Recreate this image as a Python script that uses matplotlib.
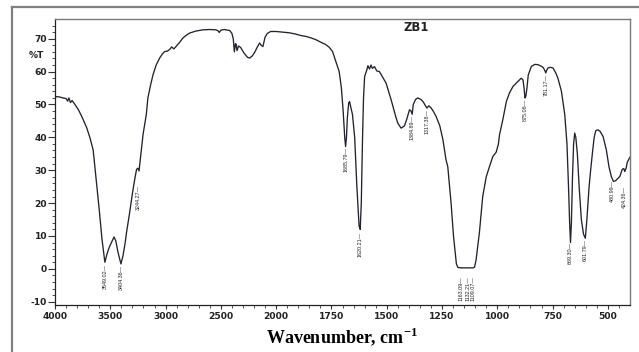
import numpy as np
import matplotlib
matplotlib.use('Agg')
import matplotlib.pyplot as plt
from matplotlib.lines import Line2D
import matplotlib.transforms as mtransforms

plt.rcParams['mathtext.fontset'] = 'custom'
plt.rcParams['mathtext.rm'] = 'Liberation Serif'
plt.rcParams['mathtext.bf'] = 'Liberation Serif:bold'

# IR spectrum of ZB1 (wavenumber cm-1, %T)
wavenumber = [4000, 3960, 3930, 3900, 3885, 3875, 3860, 3845, 3820, 3790, 3760, 3740, 3714,
              3685, 3655, 3630, 3600, 3575, 3549, 3530, 3510, 3490, 3466, 3450, 3430, 3404,
              3385, 3365, 3354, 3330, 3295, 3275, 3262, 3250, 3240, 3219, 3204, 3174, 3160,
              3135, 3114, 3085, 3054, 3030, 3009, 2985, 2964, 2945, 2925, 2904, 2875, 2844,
              2815, 2784, 2730, 2664, 2600, 2545, 2525, 2515, 2500, 2470, 2420, 2400, 2388,
              2378, 2368, 2362, 2354, 2340, 2320, 2290, 2260, 2240, 2215, 2195, 2170, 2150,
              2135, 2120, 2100, 2080, 2050, 2000, 1971, 1940, 1911, 1890, 1865, 1840, 1820,
              1800, 1775, 1760, 1745, 1730, 1715, 1705, 1697, 1690, 1686, 1682, 1678, 1672,
              1668, 1662, 1655, 1645, 1635, 1625, 1620, 1615, 1610, 1605, 1600, 1590, 1585,
              1578, 1571, 1565, 1555, 1545, 1533, 1520, 1503, 1480, 1460, 1450, 1435, 1420,
              1410, 1397, 1390, 1385, 1380, 1370, 1360, 1345, 1335, 1325, 1318, 1310, 1300,
              1290, 1277, 1260, 1246, 1232, 1224, 1209, 1198, 1185, 1178, 1163, 1132, 1109,
              1103, 1096, 1081, 1066, 1050, 1036, 1020, 1005, 995, 990, 975, 959, 945, 929,
              907, 892, 884, 879, 875, 871, 866, 860, 846, 830, 816, 800, 792, 785, 781, 776,
              771, 760, 748, 735, 726, 718, 710, 695, 685, 678, 673, 669, 665, 660, 655, 650,
              645, 638, 630, 620, 610, 602, 595, 585, 578, 570, 562, 555, 545, 535, 522, 507,
              495, 484, 475, 465, 455, 446, 435, 428, 424, 418, 412, 400]
transmittance = [52.4, 52.3, 52.0, 51.8, 51.0, 52.0, 50.6, 51.2, 50.0, 48.5, 46.5, 45.0, 43.0,
                 40.0, 36.2, 28.0, 18.0, 9.0, 2.0, 4.5, 6.5, 8.0, 9.7, 8.5, 5.0, 1.5,
                 4.0, 8.0, 10.9, 16.0, 24.0, 28.0, 30.3, 30.6, 29.8, 36.2, 40.8, 47.0, 52.0,
                 56.0, 59.0, 62.0, 64.1, 65.3, 66.1, 66.2, 66.7, 67.5, 66.9, 67.7, 68.8, 70.2,
                 71.0, 71.7, 72.3, 72.7, 72.8, 72.7, 72.4, 71.9, 72.6, 72.8, 72.5, 71.6, 70.0,
                 66.0, 68.5, 68.3, 66.4, 67.8, 67.3, 65.6, 64.4, 64.1, 64.8, 65.8, 67.5, 68.7,
                 68.0, 67.6, 70.5, 71.6, 72.2, 72.2, 72.0, 71.8, 71.4, 71.0, 70.7, 70.2, 69.7,
                 69.0, 68.2, 67.4, 66.1, 63.1, 60.0, 55.0, 48.0, 40.0, 37.2, 40.0, 46.0, 50.5,
                 50.9, 49.0, 47.0, 40.0, 25.0, 13.0, 12.0, 20.0, 38.0, 52.0, 58.5, 60.5, 61.8,
                 60.8, 62.0, 61.0, 61.5, 60.2, 60.0, 58.5, 56.5, 51.4, 46.5, 44.3, 42.8, 43.5,
                 45.4, 48.4, 48.0, 47.0, 50.0, 51.5, 52.0, 51.5, 50.8, 49.6, 48.9, 49.6, 49.0,
                 48.0, 46.4, 43.5, 39.3, 33.2, 31.1, 20.0, 9.9, 1.5, 0.4, 0.3, 0.3, 0.3,
                 0.5, 2.7, 11.0, 22.0, 28.0, 31.0, 34.2, 35.5, 38.0, 40.8, 45.4, 50.9, 53.5, 55.5,
                 57.0, 58.0, 57.5, 55.0, 52.0, 52.5, 55.0, 59.0, 61.6, 62.2, 62.1, 61.6, 61.2, 60.3, 59.6, 60.5,
                 61.1, 61.3, 61.1, 59.5, 58.0, 56.0, 54.0, 46.9, 38.0, 25.0, 14.0, 8.0, 14.0, 28.0, 38.0, 41.3,
                 40.0, 35.0, 25.0, 15.0, 10.5, 9.3, 15.0, 25.0, 30.0, 35.2, 40.0, 42.0, 42.3, 41.8, 40.3, 36.2,
                 31.0, 28.0, 26.6, 26.8, 27.5, 28.1, 30.3, 30.5, 29.6, 30.5, 32.5, 34.0]

peak_labels = ['3549.02', '3404.36', '3244.27', '1685.79', '1620.21', '1384.89', '1317.38',
               '1163.09', '1132.21', '1109.07', '875.08', '781.17', '669.30', '601.79',
               '480.99', '424.36']
peak_wn = [float(s) for s in peak_labels]
label_drop = [1, 1, 11, 1, 2, 1, 1, 6, 6, 6, 1, 1, 1, 1, 1, 11]  # points below the curve

x_major = [4000, 3500, 3000, 2500, 2000, 1750, 1500, 1250, 1000, 750, 500]
x_minor = list(range(3900, 2000, -100)) + [w for w in range(1950, 400, -50) if w % 250 != 0]
y_major = list(range(-10, 71, 10))
y_minor = list(range(-10, 76, 2))


# IR axis: half scale above 2000 cm-1
def fwd(x):
    x = np.asarray(x, dtype=float)
    return np.where(x > 2000, 2000 + (x - 2000) / 2, x)


def inv(y):
    y = np.asarray(y, dtype=float)
    return np.where(y > 2000, 2000 + (y - 2000) * 2, y)


fig = plt.figure(figsize=(6.39, 3.52), dpi=100)
ax = fig.add_axes([55 / 639, 1 - 305 / 352, 575 / 639, 286 / 352])

ax.set_xscale('function', functions=(fwd, inv))
ax.plot(wavenumber, transmittance, color='#222230', lw=0.95)
ax.set_xlim(4000, 400)
ax.set_ylim(-11, 76)

ax.set_xticks(x_major, [str(v) for v in x_major])
ax.set_xticks(x_minor, minor=True)
ax.set_yticks(y_major, [str(v) for v in y_major])
ax.set_yticks(y_minor, minor=True)
tick_font = dict(family='DejaVu Sans', weight='bold', size=6.6)
for lab in ax.get_xticklabels() + ax.get_yticklabels():
    lab.set_fontproperties(matplotlib.font_manager.FontProperties(**tick_font))
ax.tick_params(axis='y', which='major', length=5, width=0.8, pad=0.5, colors='#333333')
ax.tick_params(axis='y', which='minor', length=2.2, width=0.6, colors='#333333')
ax.tick_params(axis='x', which='major', length=3, width=0.8, pad=2.2, colors='#333333')
ax.tick_params(axis='x', which='minor', length=2.2, width=0.6, colors='#333333')
for lab in ax.get_xticklabels() + ax.get_yticklabels():
    lab.set_color('#222222')

for side in ['left', 'bottom']:
    ax.spines[side].set_color('#222222')
    ax.spines[side].set_linewidth(0.9)
for side in ['top', 'right']:
    ax.spines[side].set_color('#7a7a7a')
    ax.spines[side].set_linewidth(1.0)

# %T sits among the y tick labels
trans = mtransforms.blended_transform_factory(ax.transAxes, ax.transData)
ax.text(-0.019, 65, '%T', transform=trans, ha='right', va='center', **tick_font, color='#222222')

ax.text(0.629, 0.970, 'ZB1', transform=ax.transAxes, ha='center', va='center',
        family='DejaVu Sans', weight='bold', size=8.4, color='#222222')

ax.set_xlabel(r'Wavenumber, cm$^{\mathbf{-1}}$', family='Liberation Serif', weight='bold',
              size=13, labelpad=3)

# peak labels hang under the band with a short lead
wn_asc = wavenumber[::-1]
t_asc = transmittance[::-1]
for s, w, d in zip(peak_labels, peak_wn, label_drop):
    t = np.interp(w, wn_asc, t_asc)
    ax.annotate(s + '\u2014', (w, t), xytext=(0, -d), textcoords='offset points',
                rotation=90, ha='center', va='top', family='Liberation Sans', size=3.9,
                color='#222222')

# grey page frame
fig.add_artist(Line2D([12 / 639, 1], [1 - 7 / 352, 1 - 7 / 352], color='#808080', lw=1.6))
fig.add_artist(Line2D([12 / 639, 12 / 639], [0, 1 - 7 / 352], color='#808080', lw=1.6))

fig.savefig('out.png', dpi=100)
